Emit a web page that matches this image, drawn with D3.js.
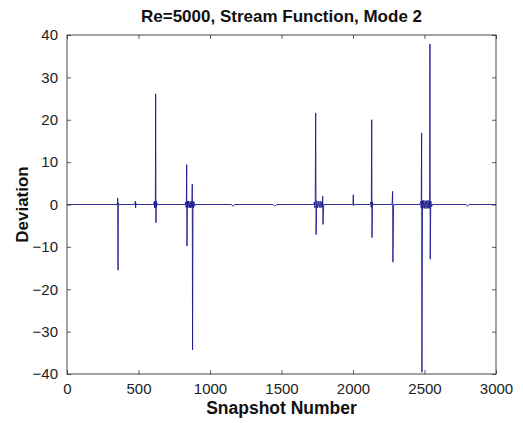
<!DOCTYPE html>
<html>
<head>
<meta charset="utf-8">
<script src="https://cdn.jsdelivr.net/npm/d3@7/dist/d3.min.js"></script>
<style>
  html, body { margin: 0; padding: 0; background: #fff; }
  svg { display: block; }
  text { font-family: "Liberation Sans", Arial, Helvetica, sans-serif; }
</style>
</head>
<body>
<svg id="chart" width="523" height="423"></svg>
<script>
// Deviation of mode 2 per snapshot; snapshots not listed sit on zero.
const snapshots = [
  1, 352, 355, 357, 359, 362,
  475, 478, 480, 482, 485,
  606, 610, 612, 614, 616, 618, 620, 622, 624, 626, 628, 632,
  826, 830, 833, 835, 837, 839, 842, 846, 850, 855, 860, 864, 868,
  872, 874, 876, 878, 881, 884, 888, 892, 897,
  1150, 1160, 1172,
  1440, 1452, 1466,
  1725, 1730, 1733, 1736, 1739, 1742, 1746, 1752, 1758, 1764, 1770, 1776,
  1782, 1786, 1788, 1790, 1795,
  1996, 2000, 2002, 2004, 2008,
  2120, 2125, 2128, 2131, 2133, 2136, 2141,
  2270, 2274, 2277, 2279, 2284,
  2468, 2474, 2477, 2480, 2482, 2486, 2490, 2495, 2500, 2505, 2510, 2515,
  2520, 2525, 2530, 2534, 2536, 2538, 2540, 2544, 2550, 2556,
  2790, 2800, 2812,
  3000
];
const deviations = [
  0, 0, 1.5, -15.5, 0.4, 0,
  0, 0.8, -0.8, 0.3, 0,
  0, 0.6, -0.7, 0.8, -0.8, 0.7, 26.1, -4.3, 0.8, -0.6, 0.4, 0,
  0, 0.6, -0.7, 0.8, 9.4, -9.8, 0.8, -0.7, 0.8, -0.8, 0.7, -0.8, 0.8,
  -0.7, 0.8, 4.8, -34.3, 0.8, -0.8, 0.6, -0.4, 0,
  0, -0.4, 0,
  0, -0.4, 0,
  0, 0.6, -0.8, 0.9, 21.6, -7.1, 0.9, -0.8, 0.8, -0.7, 0.8, -0.8,
  0.7, -0.6, 2.0, -4.7, 0,
  0, 0.3, 2.3, -0.3, 0,
  0, 0.6, -0.7, 20.0, -7.8, 0.6, 0,
  0, 0.5, 3.1, -13.6, 0,
  0, 0.7, -0.8, 16.9, -39.6, 0.9, -0.9, 1.0, -0.9, 0.9, -1.0, 0.9,
  -0.9, 1.0, -0.9, 0.8, -0.9, 37.9, -12.9, 0.8, -0.5, 0,
  0, -0.4, 0,
  0
];
const xTicks = [0, 500, 1000, 1500, 2000, 2500, 3000];
const yTicks = [-40, -30, -20, -10, 0, 10, 20, 30, 40];
const titleText = "Re=5000, Stream Function, Mode 2";
const xLabel = "Snapshot Number";
const yLabel = "Deviation";

const svg = d3.select("#chart");
const plot = { left: 67, right: 496, top: 35, bottom: 374 };

const x = d3.scaleLinear().domain([0, 3000]).range([plot.left, plot.right]);
const y = d3.scaleLinear().domain([-40, 40]).range([plot.bottom, plot.top]);

const series = snapshots.map((s, i) => [s, deviations[i]]);

// Data line
const line = d3.line().x(d => x(d[0])).y(d => y(d[1]));
svg.append("path")
  .datum(series)
  .attr("d", line)
  .attr("fill", "none")
  .attr("stroke", "#1a1a8e")
  .attr("stroke-width", 0.9)
  .attr("stroke-linejoin", "miter");

// Axes with inward ticks on all four sides
const tickLen = 4;
const axisStyle = g => {
  g.select(".domain").remove();
  g.selectAll(".tick line").attr("stroke", "#333").attr("stroke-width", 0.8);
  g.selectAll(".tick text")
    .attr("fill", "#222")
    .style("font-size", "15px");
};

svg.append("g")
  .attr("transform", `translate(0,${plot.bottom})`)
  .call(d3.axisBottom(x).tickValues(xTicks).tickFormat(d3.format("d"))
    .tickSizeInner(-tickLen).tickSizeOuter(0).tickPadding(9))
  .call(axisStyle);

svg.append("g")
  .attr("transform", `translate(0,${plot.top})`)
  .call(d3.axisTop(x).tickValues(xTicks).tickFormat("")
    .tickSizeInner(-tickLen).tickSizeOuter(0))
  .call(axisStyle);

svg.append("g")
  .attr("transform", `translate(${plot.left},0)`)
  .call(d3.axisLeft(y).tickValues(yTicks).tickFormat(d3.format("d"))
    .tickSizeInner(-tickLen).tickSizeOuter(0).tickPadding(9))
  .call(axisStyle);

svg.append("g")
  .attr("transform", `translate(${plot.right},0)`)
  .call(d3.axisRight(y).tickValues(yTicks).tickFormat("")
    .tickSizeInner(-tickLen).tickSizeOuter(0))
  .call(axisStyle);

// Box frame
svg.append("rect")
  .attr("x", plot.left).attr("y", plot.top)
  .attr("width", plot.right - plot.left).attr("height", plot.bottom - plot.top)
  .attr("fill", "none").attr("stroke", "#333").attr("stroke-width", 0.9);

// Title and axis labels
svg.append("text")
  .attr("x", (plot.left + plot.right) / 2).attr("y", 22)
  .attr("text-anchor", "middle")
  .style("font-size", "17px").style("font-weight", "bold")
  .attr("fill", "#111")
  .text(titleText);

svg.append("text")
  .attr("x", (plot.left + plot.right) / 2).attr("y", 414)
  .attr("text-anchor", "middle")
  .style("font-size", "17.5px").style("font-weight", "bold")
  .attr("fill", "#111")
  .text(xLabel);

svg.append("text")
  .attr("transform", `translate(28,${y(0)}) rotate(-90)`)
  .attr("text-anchor", "middle")
  .style("font-size", "17px").style("font-weight", "bold")
  .attr("fill", "#111")
  .text(yLabel);
</script>
</body>
</html>
